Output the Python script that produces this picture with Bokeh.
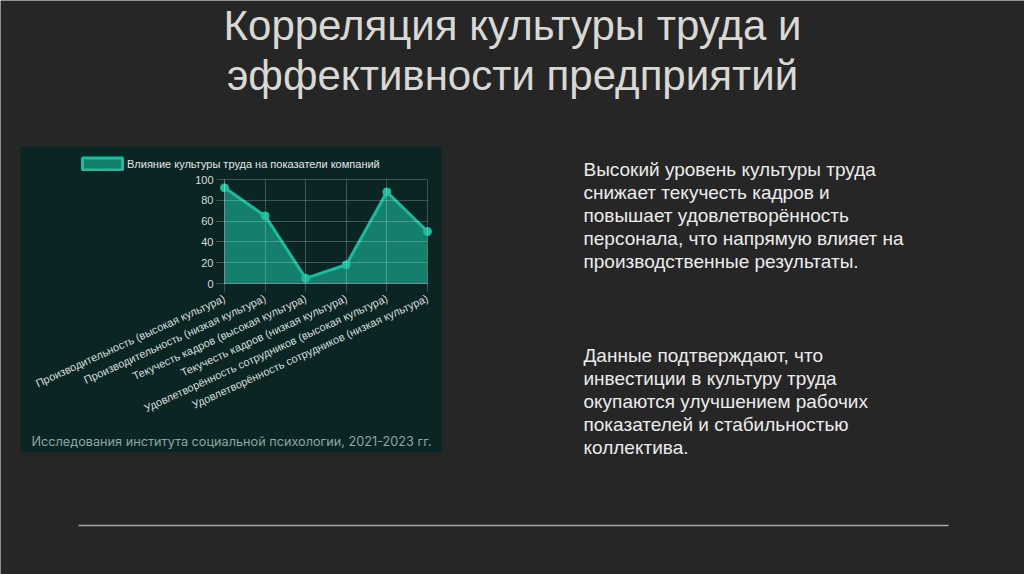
from bokeh.plotting import figure
from bokeh.models import Range1d, FixedTicker, Legend, LegendItem, LinearAxis
from bokeh.core.properties import value
from bokeh.embed import file_html
from bokeh.resources import INLINE

# --- data ---
categories = [
    "Производительность (высокая культура)",
    "Производительность (низкая культура)",
    "Текучесть кадров (высокая культура)",
    "Текучесть кадров (низкая культура)",
    "Удовлетворённость сотрудников (высокая культура)",
    "Удовлетворённость сотрудников (низкая культура)",
]
values = [92, 65, 5, 18, 88, 50]
y_ticks = [0, 20, 40, 60, 80, 100]
series_name = "Влияние культуры труда на показатели компаний"
source_note = "Исследования института социальной психологии, 2021-2023 гг."

title_lines = ["Корреляция культуры труда и", "эффективности предприятий"]
para1 = [
    "Высокий уровень культуры труда",
    "снижает текучесть кадров и",
    "повышает удовлетворённость",
    "персонала, что напрямую влияет на",
    "производственные результаты.",
]
para2 = [
    "Данные подтверждают, что",
    "инвестиции в культуру труда",
    "окупаются улучшением рабочих",
    "показателей и стабильностью",
    "коллектива.",
]

W, H = 1024, 574
SLIDE_BG = "#262626"
PANEL_BG = "#0b2525"
TEAL = "#1abc9c"
GRID = "#ffffff"
FONT = value("Liberation Sans")

# chart plot area on the slide (pixels)
AREA_L, AREA_R, AREA_T, AREA_B = 224, 427, 179, 283


def fitted_range(v0, v1, p0, p1, size):
    # range whose values v0, v1 land on pixels p0, p1 of a canvas size px long
    k = (p1 - p0) / (v1 - v0)
    start = v0 - p0 / k
    return Range1d(start, start + size / k)


xs = list(range(len(categories)))

# slide canvas in pixel units (y down), chart drawn on extra ranges
p = figure(width=W, height=H, x_range=Range1d(0, W), y_range=Range1d(H, 0),
           output_backend="svg", toolbar_location=None, min_border=0,
           x_axis_location=None, y_axis_location=None,
           background_fill_color=SLIDE_BG, border_fill_color=SLIDE_BG,
           outline_line_color=None)
p.grid.visible = False
p.extra_x_ranges = {"cat": fitted_range(0, len(categories) - 1, AREA_L, AREA_R, W)}
p.extra_y_ranges = {"val": fitted_range(0, 100, H - AREA_B, H - AREA_T, H)}

# title
p.text(x=[512, 512], y=[25, 75], text=title_lines, text_align="center",
       text_baseline="alphabetic", text_font=FONT, text_font_size="42px",
       text_color="#d9d9d4")

# dark chart panel
p.quad(left=[20], right=[441], top=[146], bottom=[452], fill_color=PANEL_BG, line_color=None)

# series
p.varea(x=xs, y1=[0] * len(values), y2=values, fill_color=TEAL, fill_alpha=0.6,
        x_range_name="cat", y_range_name="val")
p.line(xs, values, line_color=TEAL, line_width=3, x_range_name="cat", y_range_name="val")
p.scatter(xs, values, size=8, fill_color=TEAL, line_color=TEAL,
          x_range_name="cat", y_range_name="val")

# axes at the chart origin; long ticks double as the grid
xaxis = LinearAxis(x_range_name="cat", y_range_name="val", fixed_location=0,
                   bounds=(0, len(categories) - 1), ticker=FixedTicker(ticks=xs),
                   major_label_overrides={i: c for i, c in enumerate(categories)},
                   major_label_orientation=0.43,
                   major_tick_in=AREA_B - AREA_T, major_tick_out=8)
yaxis = LinearAxis(x_range_name="cat", y_range_name="val", fixed_location=0,
                   bounds=(0, 100), ticker=FixedTicker(ticks=y_ticks),
                   major_tick_in=AREA_R - AREA_L, major_tick_out=8)
for ax in (xaxis, yaxis):
    ax.axis_line_color = GRID
    ax.axis_line_alpha = 0.22
    ax.major_tick_line_color = GRID
    ax.major_tick_line_alpha = 0.22
    ax.minor_tick_line_color = None
    ax.major_label_text_font = "Liberation Sans"
    ax.major_label_text_font_size = "11px"
    ax.major_label_text_color = "#d6dcdb"
    ax.major_label_standoff = 3
xaxis.major_label_standoff = 6
p.add_layout(xaxis, "below")
p.add_layout(yaxis, "left")

# legend swatch: hidden box carrying the series style
swatch = p.quad(left=xs[:1], right=xs[:1], bottom=[0], top=values[:1], visible=False,
                fill_color=TEAL, fill_alpha=0.6, line_color=TEAL, line_width=3,
                x_range_name="cat", y_range_name="val")
legend = Legend(items=[LegendItem(label=series_name, renderers=[swatch])],
                location=(77, H - 171), orientation="horizontal", padding=0, margin=0,
                glyph_width=50, glyph_height=15, label_height=15, label_standoff=0,
                label_text_font="Liberation Sans", label_text_font_size="11px",
                label_text_color="#e6e6e6", background_fill_alpha=0,
                border_line_alpha=0, inactive_fill_alpha=0)
p.add_layout(legend)

p.text(x=[31], y=[441], text=[source_note], text_baseline="alphabetic",
       text_font=value("Inter"), text_font_size="12.7px", text_color="#8ea5a2")

# right text
p.text(x=[583] * len(para1), y=[169 + 23 * i for i in range(len(para1))], text=para1,
       text_baseline="alphabetic", text_font=FONT, text_font_size="19px",
       text_color="#ececec")
p.text(x=[583] * len(para2), y=[355 + 23 * i for i in range(len(para2))], text=para2,
       text_baseline="alphabetic", text_font=FONT, text_font_size="19px",
       text_color="#ececec")

# bottom rule
p.segment(x0=[78], y0=[525], x1=[948], y1=[525], line_color="#a8a8a8", line_width=1.5)

open("out.html", "w").write(file_html(p, INLINE))
